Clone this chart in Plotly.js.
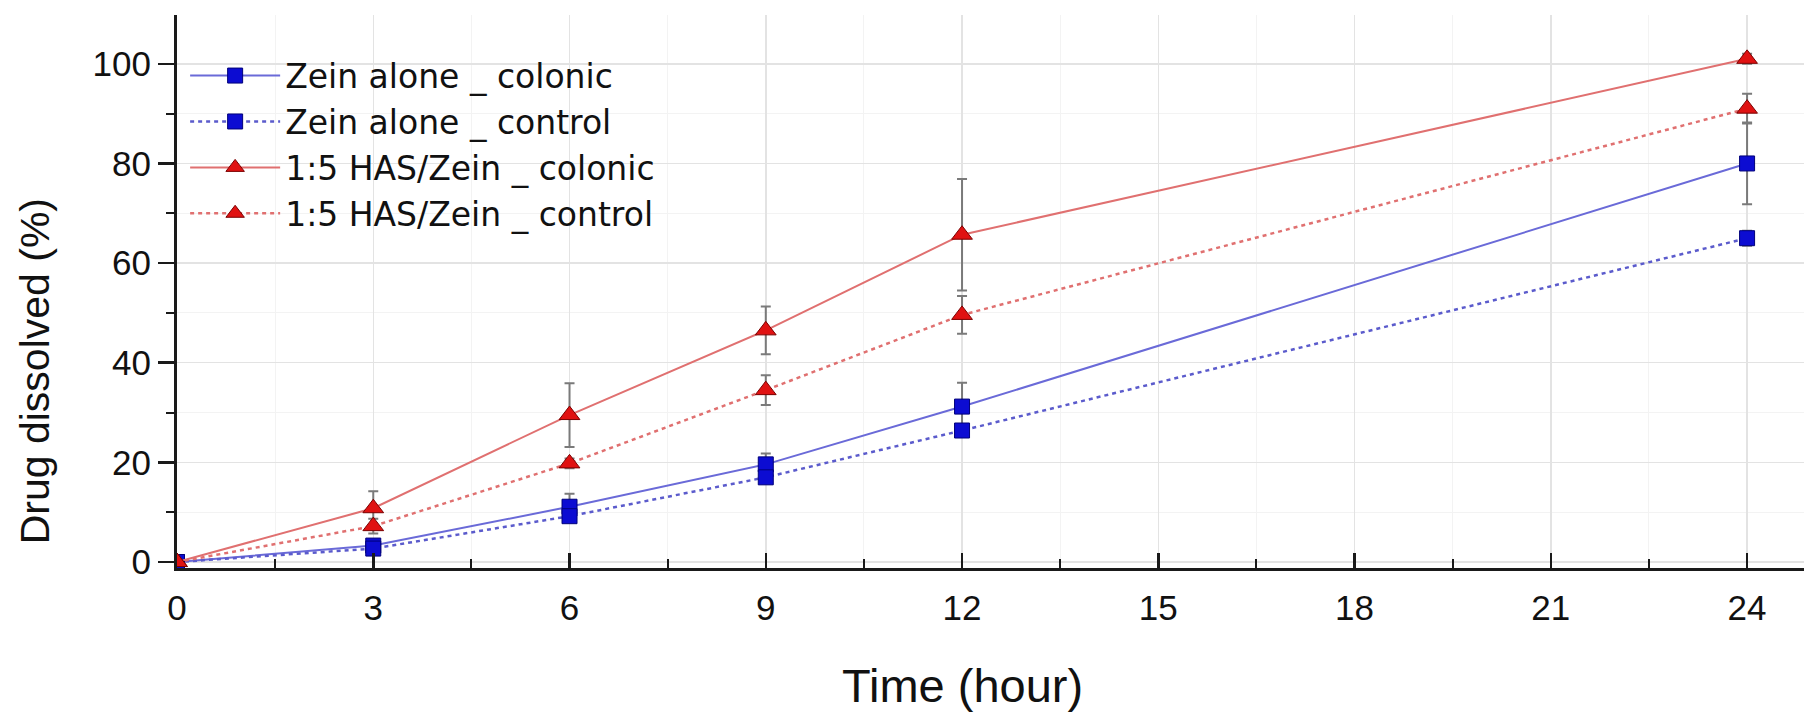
<!DOCTYPE html>
<html>
<head>
<meta charset="utf-8">
<script src="https://cdn.plot.ly/plotly-3.0.1.min.js"></script>
<style>html,body{margin:0;padding:0;background:#fff;}#chart{width:1804px;height:715px;}</style>
</head>
<body>
<div id="chart"></div>
<script>
// ---- data ----
const timeHours = [0, 3, 6, 9, 12, 24];

const zeinColonic    = [0, 3.3, 11.1, 19.6, 31.2, 80];
const zeinColonicErr = [0, 1.0, 2.6, 2.2, 4.8, 8.2];

const zeinControl    = [0, 2.7, 9.2, 17.0, 26.4, 65];
const zeinControlErr = [0, 0.8, 1.0, 1.0, 1.0, 1.5];

const hasColonic     = [0, 10.8, 29.5, 46.5, 65.7, 101];
const hasColonicErr  = [0, 3.4, 6.4, 4.8, 11.2, 1.0];

const hasControl     = [0, 7.2, 19.8, 34.5, 49.6, 91];
const hasControlErr  = [0, 1.5, 1.0, 3.0, 3.8, 3.0];

const seriesNames = [
  "Zein alone _ colonic",
  "Zein alone _ control",
  "1:5 HAS/Zein _ colonic",
  "1:5 HAS/Zein _ control"
];

const xTickVals = [0, 3, 6, 9, 12, 15, 18, 21, 24];
const yTickVals = [0, 20, 40, 60, 80, 100];
const xTitle = "Time (hour)";
const yTitle = "Drug dissolved (%)";

// ---- styling ----
const FONT = "Liberation Sans, Arial, sans-serif";
const LEGFONT = "DejaVu Sans, Liberation Sans, sans-serif";
const errStyle = (arr) => ({type: "data", array: arr, visible: true, color: "#7a7a7a", thickness: 2, width: 5});
const squareMarker = {symbol: "square", size: 15, color: "#0c0cd2", line: {color: "#00007a", width: 1}};
const triMarker = {symbol: "triangle-up", size: 18, color: "#e01212", line: {color: "#7a0000", width: 1}};

const traces = [
  {x: timeHours, y: zeinColonic, error_y: errStyle(zeinColonicErr), name: seriesNames[0],
   mode: "lines+markers", line: {color: "#6a6ad8", width: 2}, marker: squareMarker},
  {x: timeHours, y: zeinControl, error_y: errStyle(zeinControlErr), name: seriesNames[1],
   mode: "lines+markers", line: {color: "#5b5bcc", width: 2.5, dash: "4px,4px"}, marker: squareMarker},
  {x: timeHours, y: hasColonic, error_y: errStyle(hasColonicErr), name: seriesNames[2],
   mode: "lines+markers", line: {color: "#e07070", width: 2}, marker: triMarker},
  {x: timeHours, y: hasControl, error_y: errStyle(hasControlErr), name: seriesNames[3],
   mode: "lines+markers", line: {color: "#e07070", width: 2.5, dash: "4px,4px"}, marker: triMarker}
];

const XR = [0, 24.87];
const YR = [-1.2, 109.8];
const axisColor = "#1a1a1a";

const layout = {
  width: 1804, height: 715, autosize: false,
  margin: {l: 177, r: 0, t: 15, b: 147, pad: 0},
  paper_bgcolor: "#ffffff", plot_bgcolor: "#ffffff",
  font: {family: FONT, size: 35, color: "#111111"},
  showlegend: true,
  legend: {x: 0.005, y: 0.941, xanchor: "left", yanchor: "top",
           bgcolor: "rgba(0,0,0,0)", borderwidth: 0,
           font: {family: LEGFONT, size: 33, color: "#111111"},
           itemwidth: 90, tracegroupgap: 0, itemsizing: "trace"},
  xaxis: {range: XR, tickmode: "array", tickvals: xTickVals, ticktext: xTickVals.map(String),
          ticks: "inside", ticklen: 15, tickwidth: 2.5, tickcolor: axisColor,
          showline: true, linewidth: 3, linecolor: axisColor, mirror: false,
          showgrid: true, gridcolor: "#e3e3e3", gridwidth: 1.5, zeroline: false,
          ticklabelstandoff: 7,
          minor: {dtick: 1.5, tick0: 0, ticks: "inside", ticklen: 9, tickwidth: 2, tickcolor: axisColor,
                  showgrid: true, gridcolor: "#f3f3f3", gridwidth: 1},
          tickfont: {family: FONT, size: 35, color: "#111111"}},
  xaxis2: {overlaying: "x", anchor: "y", side: "bottom", range: XR, tickmode: "array", tickvals: xTickVals,
           ticks: "outside", ticklen: 15, tickwidth: 2.5, tickcolor: axisColor, showticklabels: false,
           showline: false, showgrid: false, zeroline: false,
           minor: {dtick: 1.5, tick0: 0, ticks: "outside", ticklen: 9, tickwidth: 2, tickcolor: axisColor, showgrid: false}},
  xaxis3: {overlaying: "x", anchor: "y", side: "top", range: XR, tickmode: "array", tickvals: xTickVals,
           ticks: "inside", ticklen: 17, tickwidth: 2.5, tickcolor: axisColor, showticklabels: false,
           showline: true, linewidth: 4, linecolor: "#2a2a2a", showgrid: false, zeroline: false,
           minor: {dtick: 1.5, tick0: 0, ticks: "inside", ticklen: 9, tickwidth: 2, tickcolor: axisColor, showgrid: false}},
  yaxis: {range: YR, tickmode: "array", tickvals: yTickVals, ticktext: yTickVals.map(String),
          ticks: "outside", ticklen: 16, tickwidth: 2.5, tickcolor: axisColor,
          showline: true, linewidth: 3, linecolor: axisColor, mirror: false,
          showgrid: true, gridcolor: "#e3e3e3", gridwidth: 1.5, zeroline: false,
          ticklabelstandoff: 0,
          minor: {dtick: 10, tick0: 0, ticks: "outside", ticklen: 8, tickwidth: 2, tickcolor: axisColor,
                  showgrid: true, gridcolor: "#f3f3f3", gridwidth: 1},
          tickfont: {family: FONT, size: 35, color: "#111111"}},
  yaxis2: {overlaying: "y", anchor: "x", side: "right", range: YR, tickmode: "array", tickvals: yTickVals,
           ticks: "inside", ticklen: 9, tickwidth: 3, tickcolor: axisColor, showticklabels: false,
           showline: false, showgrid: false, zeroline: false,
           minor: {dtick: 10, tick0: 0, ticks: "inside", ticklen: 5, tickwidth: 2, tickcolor: axisColor, showgrid: false}},
  annotations: [
    {text: xTitle, xref: "x", yref: "paper", x: 12, y: -0.212, xanchor: "center", yanchor: "middle",
     showarrow: false, font: {family: FONT, size: 47, color: "#111111"}},
    {text: yTitle, xref: "paper", yref: "paper", x: -0.0875, y: 0.355, xanchor: "center", yanchor: "middle",
     textangle: -90, showarrow: false, font: {family: FONT, size: 41, color: "#111111"}}
  ]
};

Plotly.newPlot("chart", traces, layout, {displayModeBar: false, staticPlot: true});
</script>
</body>
</html>
